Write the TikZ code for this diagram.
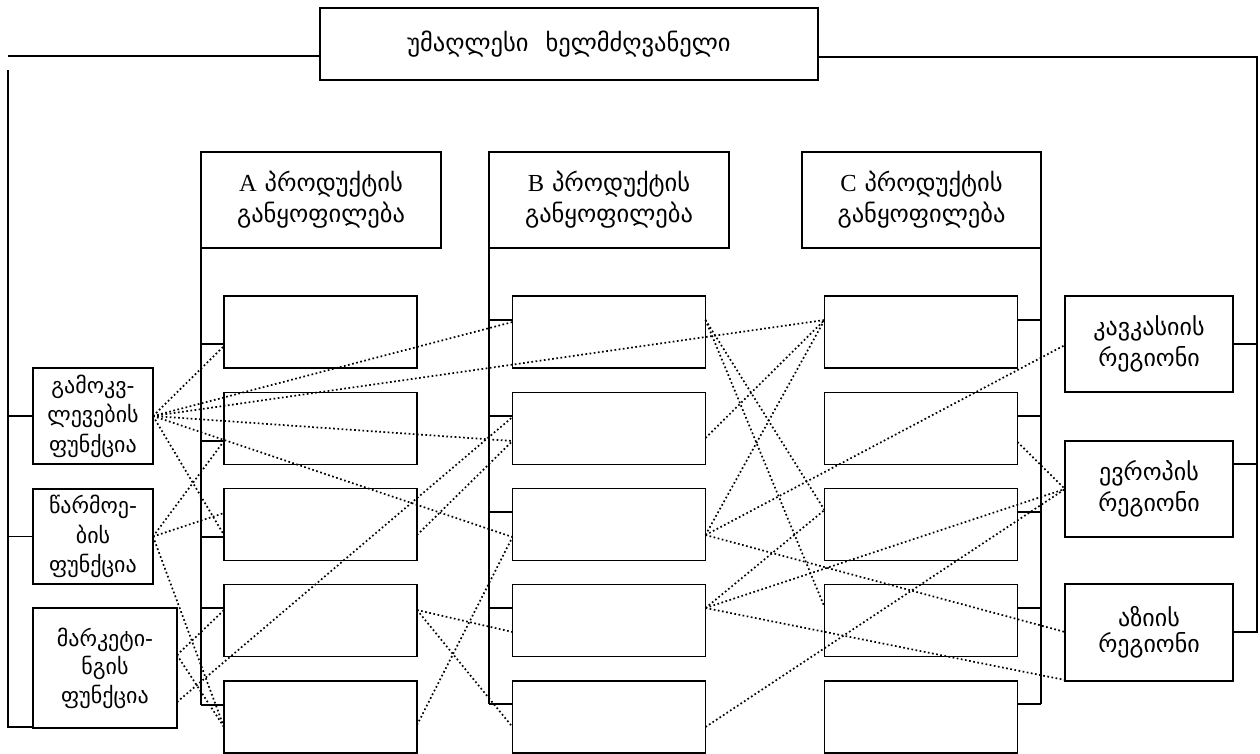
\documentclass[tikz,border=0pt]{standalone}
\usepackage{fontspec}
\newfontfamily\geo{DejaVu Sans}
\newfontfamily\lat{Liberation Serif}
\begin{document}
\begin{tikzpicture}[x=1pt, y=-1pt,
  box/.style={draw, rectangle, line width=1.4pt, inner sep=0pt, outer sep=0pt},
  label/.style={font=\geo\fontsize{22}{29.5}\selectfont, align=center},
  reglabel/.style={font=\geo\fontsize{24}{29.5}\selectfont, align=center},
  headlabel/.style={font=\geo\fontsize{24.5}{31}\selectfont, align=center},
  conn/.style={line width=1.4pt},
  link/.style={line width=1.7pt, dash pattern=on 1.7pt off 2.5pt}]
\useasboundingbox (0,0) rectangle (1260,753);

% chief executive
\node[box, font=\geo\fontsize{24.5}{29}\selectfont, minimum width=498pt, minimum height=72pt] (top) at (569,44)
  {\raisebox{3pt}{უმაღლესი\hspace{17pt}ხელმძღვანელი}};

% product divisions
\node[box, headlabel, minimum width=240pt, minimum height=96pt] (Ahead) at (321,200)
  {{\lat A} პროდუქტის\\განყოფილება};
\node[box, headlabel, minimum width=240pt, minimum height=96pt] (Bhead) at (609,200)
  {{\lat B} პროდუქტის\\განყოფილება};
\node[box, headlabel, minimum width=239pt, minimum height=96pt] (Chead) at (921.5,200)
  {{\lat C} პროდუქტის\\განყოფილება};

% unit boxes under each division
\foreach \c/\x in {A/320.5, B/609, C/921}
  \foreach \i in {1,...,5}
    \node[box, minimum width=193pt, minimum height=72pt] (\c\i) at (\x,{332+96.25*(\i-1)}) {};

% functions
\node[box, label, minimum width=120pt, minimum height=96pt] (f1) at (93,416)
  {გამოკვ-\\ლევების\\ფუნქცია};
\node[box, label, minimum width=120pt, minimum height=95pt] (f2) at (93,536.5)
  {წარმოე-\\ბის\\ფუნქცია};
\node[box, label, minimum width=144pt, minimum height=120pt] (f3) at (105,668)
  {\raisebox{4pt}{\shortstack{მარკეტი-\\[2pt]ნგის\\[2pt]ფუნქცია}}};

% regions
\node[box, reglabel, minimum width=168pt, minimum height=96pt] (R1) at (1149,344)
  {\raisebox{5pt}{\shortstack{კავკასიის\\[3pt]რეგიონი}}};
\node[box, reglabel, minimum width=168pt, minimum height=96pt] (R2) at (1149,489)
  {\raisebox{4pt}{\shortstack{ევროპის\\[3pt]რეგიონი}}};
\node[box, reglabel, minimum width=168pt, minimum height=97pt] (R3) at (1149,632.5)
  {\raisebox{4pt}{\shortstack{აზიის\\[3pt]რეგიონი}}};

% outer buses
\coordinate (ltop) at (8,56);
\coordinate (lbus) at (8,70);
\coordinate (lbot) at (8,727);
\coordinate (rtop) at (1257,57);
\coordinate (rbot) at (1257,632);

\draw[conn] (top.west |- ltop) -- (ltop);
\draw[conn] (lbus) -- (lbot) -- (f3.west |- lbot);
\draw[conn] (f1.west) -- (f1.west -| lbus);
\draw[conn] (f2.west) -- (f2.west -| lbus);

\draw[conn] (top.east |- rtop) -- (rtop) -- (rbot) -- (R3.east |- rbot);
\draw[conn] (R1.east) -- (R1.east -| rtop);
\draw[conn] (R2.east |- 0,464) -- (rtop |- 0,464);

% division spines and stubs
\draw[conn] (Ahead.south west) -- (Ahead.south west |- 0,705);
\foreach \i/\y in {1/344, 2/441, 3/537, 4/608, 5/705}
  \draw[conn] (A\i.west |- 0,\y) -- (Ahead.south west |- 0,\y);
\draw[conn] (Bhead.south west) -- (Bhead.south west |- 0,704);
\foreach \i/\y in {1/320, 2/416, 3/512, 4/608, 5/704}
  \draw[conn] (B\i.west |- 0,\y) -- (Bhead.south west |- 0,\y);
\draw[conn] (Chead.south east) -- (Chead.south east |- 0,704);
\foreach \i/\y in {1/320, 2/416, 3/512, 4/608, 5/704}
  \draw[conn] (C\i.east |- 0,\y) -- (Chead.south east |- 0,\y);

% dotted links: functions to units
\draw[link] (f1.east) -- (A1.west |- 0,346);
\draw[link] (f1.east) -- (B1.west |- 0,322);
\draw[link] (f1.east) -- (C1.west |- 0,320);
\draw[link] (f1.east) -- (B2.west |- 0,441);
\draw[link] (f1.east) -- (B3.west |- 0,537);
\draw[link] (f1.east) -- (A3.west |- 0,535);
\draw[link] (f2.east) -- (A2.west |- 0,441);
\draw[link] (f2.east) -- (A3.west |- 0,513);
\draw[link] (f2.east) -- (A5.west |- 0,727);
\draw[link] (f3.east |- 0,655) -- (A4.west |- 0,610);
\draw[link] (f3.east |- 0,655) -- (A5.west |- 0,727);
\draw[link] (f3.east |- 0,702) -- (B2.west |- 0,417);

% dotted links: A units to B units
\draw[link] (A3.east |- 0,535) -- (B2.west |- 0,441);
\draw[link] (A4.east |- 0,610) -- (B4.west |- 0,632);
\draw[link] (A4.east |- 0,610) -- (B5.west |- 0,727);
\draw[link] (A5.east |- 0,725) -- (B3.west |- 0,537);

% dotted links: B units to C units and regions
\draw[link] (B1.east |- 0,320) -- (C3.west |- 0,510);
\draw[link] (B1.east |- 0,320) -- (C4.west |- 0,607);
\draw[link] (B2.east |- 0,438) -- (C1.west |- 0,320);
\draw[link] (B3.east |- 0,535) -- (C1.west |- 0,320);
\draw[link] (B3.east |- 0,535) -- (R1.west |- 0,345);
\draw[link] (B3.east |- 0,535) -- (R3.west |- 0,632);
\draw[link] (B4.east |- 0,608) -- (C3.west |- 0,510);
\draw[link] (B4.east |- 0,608) -- (R2.west |- 0,489);
\draw[link] (B4.east |- 0,608) -- (R3.west |- 0,680);
\draw[link] (B5.east |- 0,727) -- (R2.west |- 0,489);
\draw[link] (C2.east |- 0,442) -- (R2.west |- 0,489);
\end{tikzpicture}
\end{document}
